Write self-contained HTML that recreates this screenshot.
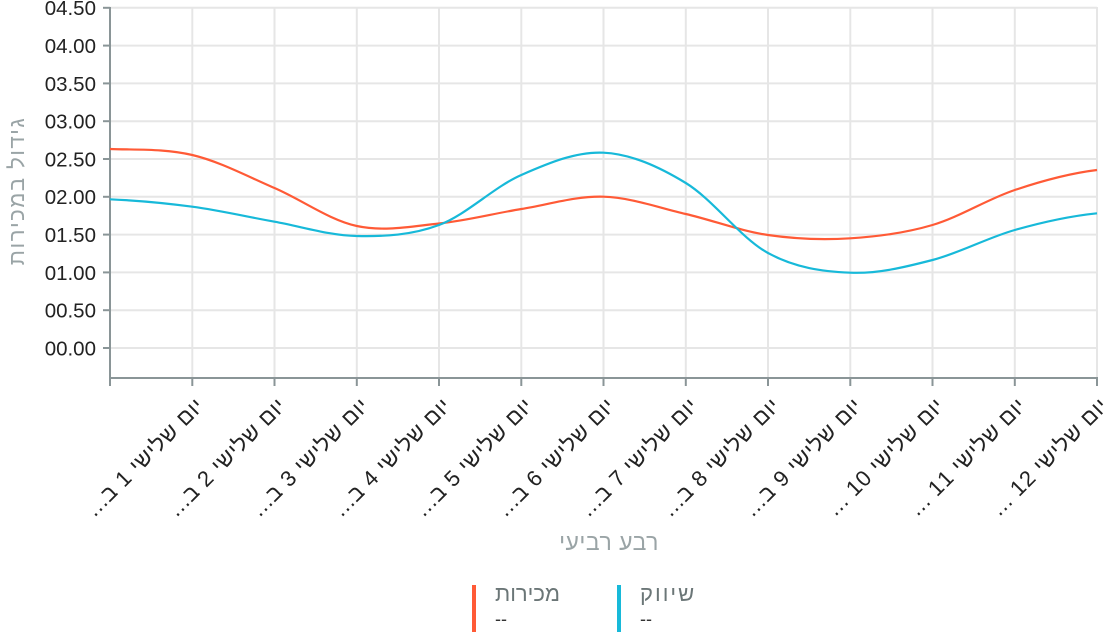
<!DOCTYPE html>
<html><head><meta charset="utf-8">
<style>
html,body{margin:0;padding:0;background:#fff;}
body{width:1104px;height:633px;position:relative;overflow:hidden;font-family:"Liberation Sans","Noto Sans CJK JP",sans-serif;}
svg{position:absolute;left:0;top:0;}
.xl{position:absolute;white-space:nowrap;direction:rtl;font-size:22px;letter-spacing:0.8px;line-height:24px;color:#222;transform-origin:100% 50%;transform:rotate(-45deg);top:390px;}
.lg{position:absolute;font-size:22px;line-height:24px;color:#6b7677;}
.dd{position:absolute;font-size:18px;color:#333;}
.bar{position:absolute;width:4px;height:47px;}
</style></head><body>
<svg width="1104" height="633" viewBox="0 0 1104 633">
  <g stroke="#e6e6e6" stroke-width="2" fill="none">
    <line x1="110" y1="7.8" x2="1097" y2="7.8"/>
    <line x1="110" y1="45.6" x2="1097" y2="45.6"/>
    <line x1="110" y1="83.4" x2="1097" y2="83.4"/>
    <line x1="110" y1="121.2" x2="1097" y2="121.2"/>
    <line x1="110" y1="159" x2="1097" y2="159"/>
    <line x1="110" y1="196.8" x2="1097" y2="196.8"/>
    <line x1="110" y1="234.6" x2="1097" y2="234.6"/>
    <line x1="110" y1="272.4" x2="1097" y2="272.4"/>
    <line x1="110" y1="310.2" x2="1097" y2="310.2"/>
    <line x1="110" y1="348" x2="1097" y2="348"/>
    <line x1="192.3" y1="7" x2="192.3" y2="378"/>
    <line x1="274.5" y1="7" x2="274.5" y2="378"/>
    <line x1="356.8" y1="7" x2="356.8" y2="378"/>
    <line x1="439" y1="7" x2="439" y2="378"/>
    <line x1="521.3" y1="7" x2="521.3" y2="378"/>
    <line x1="603.5" y1="7" x2="603.5" y2="378"/>
    <line x1="685.8" y1="7" x2="685.8" y2="378"/>
    <line x1="768" y1="7" x2="768" y2="378"/>
    <line x1="850.3" y1="7" x2="850.3" y2="378"/>
    <line x1="932.5" y1="7" x2="932.5" y2="378"/>
    <line x1="1014.8" y1="7" x2="1014.8" y2="378"/>
    <line x1="1097" y1="7" x2="1097" y2="378"/>
  </g>
  <g stroke="#8a9597" stroke-width="2" fill="none">
    <line x1="110" y1="7" x2="110" y2="379"/>
    <line x1="109" y1="378" x2="1098" y2="378"/>
    <line x1="103" y1="7.8" x2="110" y2="7.8"/>
    <line x1="103" y1="45.6" x2="110" y2="45.6"/>
    <line x1="103" y1="83.4" x2="110" y2="83.4"/>
    <line x1="103" y1="121.2" x2="110" y2="121.2"/>
    <line x1="103" y1="159" x2="110" y2="159"/>
    <line x1="103" y1="196.8" x2="110" y2="196.8"/>
    <line x1="103" y1="234.6" x2="110" y2="234.6"/>
    <line x1="103" y1="272.4" x2="110" y2="272.4"/>
    <line x1="103" y1="310.2" x2="110" y2="310.2"/>
    <line x1="103" y1="348" x2="110" y2="348"/>
    <line x1="110" y1="378" x2="110" y2="386"/>
    <line x1="192.3" y1="378" x2="192.3" y2="386"/>
    <line x1="274.5" y1="378" x2="274.5" y2="386"/>
    <line x1="356.8" y1="378" x2="356.8" y2="386"/>
    <line x1="439" y1="378" x2="439" y2="386"/>
    <line x1="521.3" y1="378" x2="521.3" y2="386"/>
    <line x1="603.5" y1="378" x2="603.5" y2="386"/>
    <line x1="685.8" y1="378" x2="685.8" y2="386"/>
    <line x1="768" y1="378" x2="768" y2="386"/>
    <line x1="850.3" y1="378" x2="850.3" y2="386"/>
    <line x1="932.5" y1="378" x2="932.5" y2="386"/>
    <line x1="1014.8" y1="378" x2="1014.8" y2="386"/>
    <line x1="1097" y1="378" x2="1097" y2="386"/>
  </g>
  <g font-family="Liberation Sans, sans-serif" font-size="20.5" fill="#222" text-anchor="end">
    <text x="96" y="15.2">04.50</text>
    <text x="96" y="53">04.00</text>
    <text x="96" y="90.8">03.50</text>
    <text x="96" y="128.6">03.00</text>
    <text x="96" y="166.4">02.50</text>
    <text x="96" y="204.2">02.00</text>
    <text x="96" y="242">01.50</text>
    <text x="96" y="279.8">01.00</text>
    <text x="96" y="317.6">00.50</text>
    <text x="96" y="355.4">00.00</text>
  </g>
  <path fill="none" stroke="#ff5a36" stroke-width="2.2" d="M110,149 C137.4,150 164.8,148.5 192.3,155 C219.7,161.5 247.1,176.2 274.5,188 C301.9,199.8 329.3,220.1 356.8,226 C384.2,231.9 411.6,226.3 439,223.5 C466.4,220.7 493.8,213.5 521.3,209 C548.7,204.5 576.1,195.9 603.5,196.7 C630.9,197.5 658.3,207.6 685.8,214 C713.2,220.4 740.6,231 768,235 C795.4,239 822.8,240 850.3,238.3 C877.7,236.6 905.1,233.1 932.5,225 C959.9,216.9 987.3,199.2 1014.8,190 C1042.2,180.8 1069.6,173.3 1097,170"/>
  <path fill="none" stroke="#17b9d9" stroke-width="2.2" d="M110,199.3 C137.4,200.5 164.8,203 192.3,206.7 C219.7,210.4 247.1,216.8 274.5,221.7 C301.9,226.6 329.3,235.5 356.8,236 C384.2,236.6 411.6,235.2 439,225 C466.4,214.8 493.8,187 521.3,175 C548.7,163 576.1,151.4 603.5,152.7 C630.9,154 658.3,166.3 685.8,183 C713.2,199.7 740.6,238 768,253 C795.4,268 822.8,271.5 850.3,272.7 C877.7,273.9 905.1,267.1 932.5,260 C959.9,252.9 987.3,237.8 1014.8,230 C1042.2,222.2 1069.6,216.1 1097,213.3"/>
  <text x="0" y="0" transform="translate(24,191) rotate(-90)" text-anchor="middle" font-family="Liberation Sans, sans-serif" font-size="22" letter-spacing="1.5" fill="#9aa4a6" direction="rtl">גידול במכירות</text>
  <text x="609" y="550" text-anchor="middle" font-family="Liberation Sans, sans-serif" font-size="23" letter-spacing="0.5" fill="#9aa4a6" direction="rtl">רבע רביעי</text>
</svg>
<div class="xl" style="right:904px;">יום שלישי 1 ב...</div>
<div class="xl" style="right:822px;">יום שלישי 2 ב...</div>
<div class="xl" style="right:739px;">יום שלישי 3 ב...</div>
<div class="xl" style="right:657px;">יום שלישי 4 ב...</div>
<div class="xl" style="right:575px;">יום שלישי 5 ב...</div>
<div class="xl" style="right:493px;">יום שלישי 6 ב...</div>
<div class="xl" style="right:410px;">יום שלישי 7 ב...</div>
<div class="xl" style="right:328px;">יום שלישי 8 ב...</div>
<div class="xl" style="right:246px;">יום שלישי 9 ב...</div>
<div class="xl" style="right:163px;">יום שלישי 10 ...</div>
<div class="xl" style="right:81px;">יום שלישי 11 ...</div>
<div class="xl" style="right:-1px;">יום שלישי 12 ...</div>

<div class="bar" style="left:472px;top:585px;background:#ff5a36;"></div>
<div class="lg" style="left:495px;top:582px;">מכירות</div>
<div class="dd" style="left:495px;top:609px;">--</div>
<div class="bar" style="left:617px;top:585px;background:#17b9d9;"></div>
<div class="lg" style="left:640px;top:582px;letter-spacing:2px;">שיווק</div>
<div class="dd" style="left:640px;top:609px;">--</div>
</body></html>
